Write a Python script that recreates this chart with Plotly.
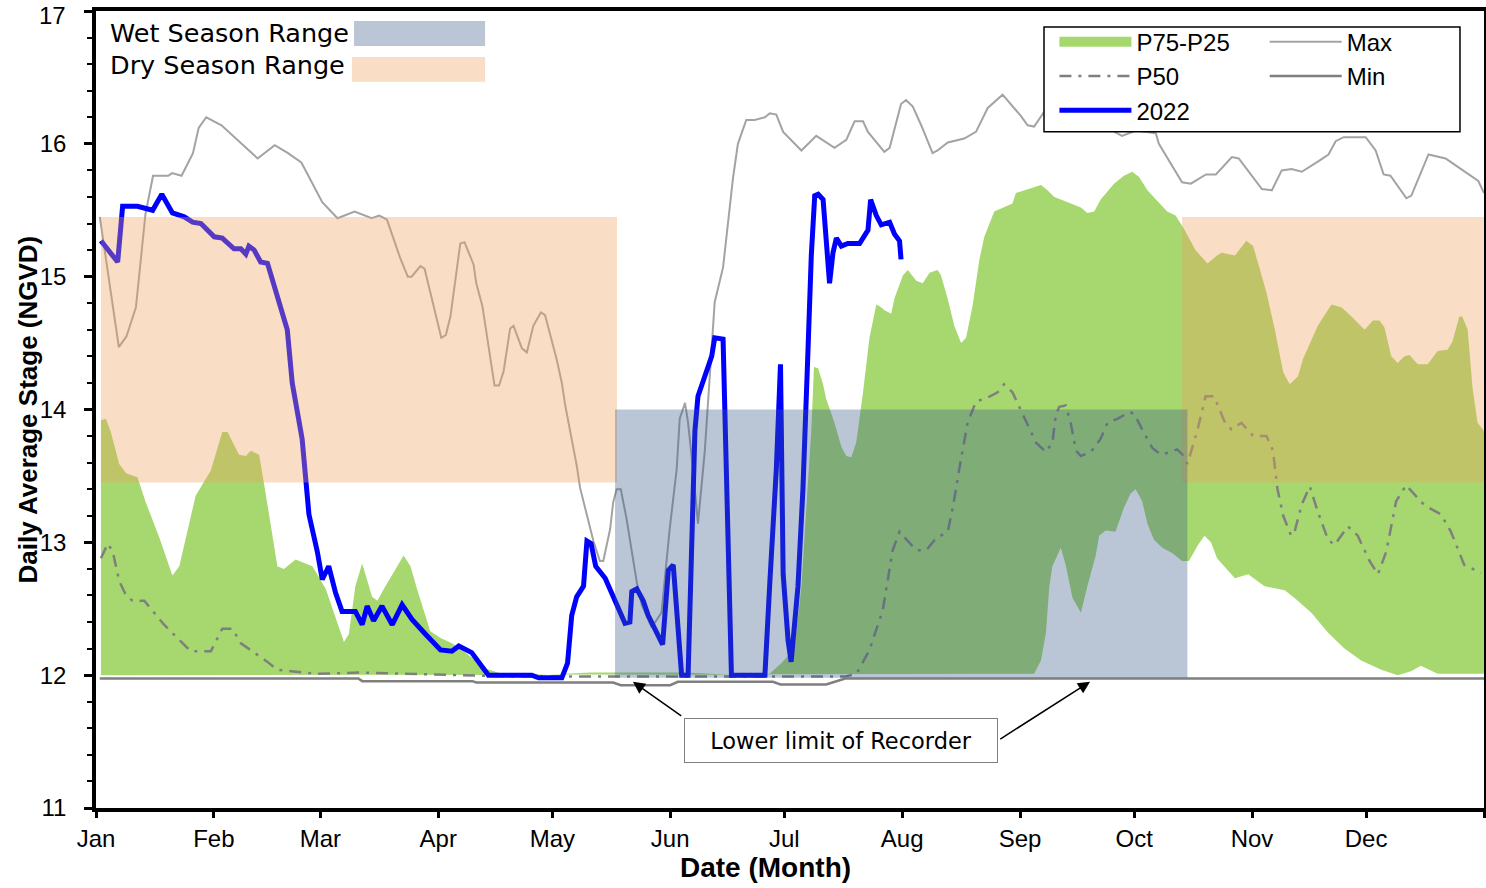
import plotly.graph_objects as go

# ---------------- data (day of year: 0 = Jan 1) ----------------
MONTHS = ["Jan", "Feb", "Mar", "Apr", "May", "Jun", "Jul", "Aug", "Sep", "Oct", "Nov", "Dec"]
MONTH_START_DAYS = [0, 31, 59, 90, 120, 151, 181, 212, 243, 273, 304, 334]
YEAR_END_DAY = 365
Y_TICKS = [11, 12, 13, 14, 15, 16, 17]

max_days = [1, 3.5, 6, 8, 10.5, 13, 15, 19, 20, 22.5, 25.5, 27, 29, 33, 36.5, 42.5, 47, 50.5, 54, 59.5,
            63.5, 68, 72.5, 74.5, 76.5, 80, 82, 83, 85.3, 86.4, 90.8, 92, 93.2, 95.8, 96.9, 99.3, 100,
            101.6, 104.8, 106, 107.2, 108.9, 109.8, 112, 113.3, 115, 117, 118.1, 121.2, 122.5, 123.4,
            126.4, 127.3, 130.8, 132.5, 133.4, 135.2, 136, 136.9, 138, 139.5, 140.8, 142.2, 143.5, 146.1,
            148.7, 150.9, 152.7, 153.5, 154.9, 155.7, 157, 158.3, 160.1, 161.4, 162.7, 164.9, 166.2,
            167.5, 168.8, 171, 173.2, 175.9, 177.2, 178.9, 180.7, 185.5, 189.4, 194.2, 197.3, 199.5,
            201.7, 203, 207.3, 208.7, 211.7, 213, 214.8, 217, 220, 221.3, 224, 228.3, 231.4, 234.5,
            238.4, 243.2, 245, 246.7, 249.3, 253, 258, 263, 267.2, 269.8, 273.5, 278.7, 279.5, 285.6,
            287.9, 291.9, 294.5, 298.7, 300.5, 306.6, 309.2, 311.8, 314.4, 317.1, 321.5, 324.1, 326,
            328.1, 333.9, 336.5, 338.6, 340.4, 344.6, 345.9, 350.4, 354.9, 356.4, 363.5, 365]
max_vals = [15.45, 14.95, 14.47, 14.55, 14.77, 15.47, 15.76, 15.76, 15.78, 15.76, 15.93, 16.12, 16.20,
            16.14, 16.05, 15.89, 15.99, 15.93, 15.86, 15.56, 15.44, 15.49, 15.44, 15.46, 15.43, 15.14,
            15.00, 15.00, 15.08, 15.06, 14.54, 14.56, 14.70, 15.25, 15.26, 15.09, 14.95, 14.78, 14.18,
            14.18, 14.29, 14.61, 14.63, 14.46, 14.43, 14.63, 14.73, 14.71, 14.37, 14.20, 14.03, 13.58,
            13.41, 13.01, 12.86, 12.86, 13.10, 13.30, 13.40, 13.40, 13.18, 12.96, 12.70, 12.53, 12.36,
            12.47, 13.11, 13.55, 13.93, 14.05, 13.90, 13.55, 13.14, 13.69, 14.25, 14.81, 15.07, 15.39,
            15.74, 16.00, 16.18, 16.18, 16.20, 16.23, 16.22, 16.09, 15.95, 16.06, 15.97, 16.03, 16.17,
            16.17, 16.09, 15.94, 15.97, 16.30, 16.33, 16.28, 16.14, 15.93, 15.95, 16.01, 16.04, 16.09,
            16.27, 16.37, 16.21, 16.14, 16.13, 16.24, 16.30, 16.32, 16.25, 16.10, 16.06, 16.10, 16.08,
            16.00, 15.71, 15.70, 15.77, 15.77, 15.90, 15.89, 15.66, 15.65, 15.80, 15.81, 15.79, 15.87,
            15.92, 16.02, 16.05, 16.05, 15.95, 15.77, 15.76, 15.59, 15.61, 15.92, 15.89, 15.86, 15.72,
            15.63]

min_days = [1, 69, 70, 99, 100, 136, 138, 151, 153, 178, 180, 192, 197, 365]
min_vals = [11.975, 11.975, 11.955, 11.955, 11.945, 11.945, 11.925, 11.925, 11.95, 11.95, 11.93, 11.93,
            11.975, 11.975]

p50_days = [1.3, 3.1, 4.4, 6.1, 7.9, 9.6, 12.7, 17.9, 24.9, 30.2, 33.2, 35.9, 38.1, 45.1, 47.7, 53.8,
            58.2, 69.6, 80, 95.8, 110, 197, 200, 203.4, 206.9, 209.5, 211.3, 215.7, 218.3, 220.9, 224,
            225.3, 227, 229.2, 231.4, 234.5, 237.1, 238.8, 241, 243.7, 247.2, 249.8, 251.5, 252.4, 253.3,
            255, 256.3, 257.7, 259, 261.6, 264.2, 266, 268.6, 271.7, 273, 275.1, 277.8, 280, 282.6,
            284.3, 286.1, 287, 289.6, 291.8, 294, 296.9, 298.6, 301.2, 304.3, 307.8, 309.5, 310.7, 312.2,
            314.3, 315.2, 317, 319.2, 321.3, 324, 325.7, 329.2, 331.8, 334.9, 337.1, 339.3, 341.9, 344.5,
            349.3, 353.7, 356.3, 359.8, 364.2]
p50_vals = [12.88, 12.99, 12.93, 12.71, 12.60, 12.56, 12.56, 12.38, 12.18, 12.18, 12.35, 12.35, 12.24,
            12.10, 12.04, 12.02, 12.01, 12.02, 12.01, 12.00, 11.99, 11.99, 12.01, 12.19, 12.49, 12.94,
            13.08, 12.94, 12.94, 13.03, 13.08, 13.26, 13.55, 13.90, 14.06, 14.09, 14.13, 14.19, 14.13,
            13.96, 13.75, 13.68, 13.75, 13.96, 14.02, 14.03, 13.90, 13.69, 13.65, 13.68, 13.78, 13.90,
            13.93, 13.98, 13.97, 13.85, 13.71, 13.66, 13.68, 13.70, 13.65, 13.59, 13.84, 14.10, 14.10,
            13.90, 13.85, 13.90, 13.80, 13.80, 13.69, 13.40, 13.20, 13.05, 13.08, 13.28, 13.42, 13.23,
            13.02, 12.98, 13.12, 13.05, 12.86, 12.76, 12.93, 13.31, 13.43, 13.28, 13.21, 13.08, 12.83,
            12.77]

p75_days = [1.3, 2.6, 3.9, 6.1, 7.9, 10.9, 13.1, 16.6, 20.1, 21.9, 26.2, 28, 30.2, 33.2, 34.6, 37.6,
            39.4, 40.7, 42.9, 44.2, 47.7, 49.4, 52.5, 56.9, 60.4, 65.2, 66.5, 68.2, 70, 72.6, 74, 76.1,
            78.7, 80.9, 82.7, 84.4, 87.9, 90.6, 93.6, 97.1, 102.4, 106.7, 115, 130, 155, 170, 176.7,
            180.2, 183.7, 185.5, 186.8, 188.1, 188.8, 189.9, 191.2, 192, 194.2, 196, 197.3, 198.6, 199.9,
            201.7, 203.4, 205.2, 206, 207.3, 209.1, 210, 212.2, 213.5, 215.7, 217.4, 219.2, 221.3, 222.2,
            224, 225.7, 227.5, 228.8, 230.5, 232.3, 233.6, 236.2, 238.8, 241, 241.9, 244.1, 246.7, 248.5,
            250.2, 252, 253.7, 256.3, 259, 260.7, 262.5, 264.2, 267.7, 270.3, 272.5, 274.3, 276.5, 279.1,
            281.7, 283.9, 286.1, 289.1, 292.3, 294.8, 296, 299.5, 302.5, 304.3, 307.8, 310, 312.2, 313.9,
            316.1, 317.4, 321.3, 324.9, 327.5, 330.5, 333.6, 335.8, 337.5, 338.8, 340.6, 342.3, 344.1,
            345.4, 347.6, 350.2, 352.8, 355.4, 356.7, 358.5, 359.3, 360.7, 362, 363.3, 365]
p75_vals = [13.92, 13.93, 13.83, 13.59, 13.52, 13.49, 13.30, 13.04, 12.75, 12.82, 13.35, 13.44, 13.54,
            13.83, 13.83, 13.66, 13.65, 13.69, 13.66, 13.44, 12.82, 12.80, 12.87, 12.82, 12.65, 12.25,
            12.31, 12.67, 12.84, 12.59, 12.56, 12.67, 12.79, 12.90, 12.82, 12.65, 12.33, 12.28, 12.24,
            12.17, 12.05, 12.01, 12.00, 12.02, 12.02, 12.00, 12.00, 12.09, 12.20, 12.67, 13.26, 13.84,
            14.32, 14.31, 14.19, 14.08, 13.90, 13.72, 13.65, 13.64, 13.75, 14.13, 14.54, 14.79, 14.78,
            14.75, 14.72, 14.84, 15.01, 15.05, 14.97, 14.95, 15.03, 15.05, 15.01, 14.83, 14.63, 14.50,
            14.54, 14.78, 15.13, 15.30, 15.49, 15.52, 15.55, 15.63, 15.65, 15.67, 15.69, 15.65, 15.60,
            15.58, 15.55, 15.52, 15.48, 15.49, 15.58, 15.70, 15.76, 15.79, 15.75, 15.65, 15.57, 15.49,
            15.46, 15.36, 15.20, 15.10, 15.16, 15.18, 15.16, 15.27, 15.23, 14.88, 14.60, 14.28, 14.19,
            14.25, 14.38, 14.63, 14.79, 14.77, 14.69, 14.60, 14.67, 14.67, 14.62, 14.40, 14.35, 14.40,
            14.41, 14.34, 14.34, 14.44, 14.45, 14.51, 14.70, 14.70, 14.60, 14.16, 13.90, 13.84]

p25_days = [1.3, 246.7, 248.5, 249.8, 250.7, 251.5, 252.8, 253.7, 255, 256.8, 259, 260.7, 262.9, 263.8,
            265.5, 268.1, 270.3, 272.1, 273.4, 275.1, 276.5, 278.2, 280.4, 283, 285.6, 287.4, 289.8,
            291.5, 293.2, 294.8, 299.5, 303, 307.3, 312.6, 315.2, 319.6, 324, 328.3, 332.7, 338, 342.3,
            345.8, 348.4, 350, 352.8, 365]
p25_vals = [12.00, 12.01, 12.11, 12.32, 12.67, 12.82, 12.90, 12.96, 12.83, 12.58, 12.47, 12.67, 12.90,
            13.05, 13.09, 13.08, 13.26, 13.37, 13.40, 13.31, 13.14, 13.02, 12.96, 12.92, 12.86, 12.86,
            12.98, 13.05, 13.00, 12.88, 12.73, 12.76, 12.67, 12.64, 12.58, 12.47, 12.32, 12.20, 12.11,
            12.04, 12.00, 12.03, 12.07, 12.05, 12.01, 12.01]

y2022_days = [1.3, 5.7, 7, 10.9, 14.9, 17.3, 20.1, 23.2, 25.4, 27.6, 31.1, 33.2, 36.3, 38.1, 39.4, 40.2,
              41.6, 43.3, 45.1, 47.2, 50.3, 51.6, 54.2, 56, 58.2, 59.5, 61.2, 63, 64.7, 68.2, 70, 71.3,
              73, 75.2, 77.9, 80.5, 83.1, 86.6, 90.6, 93.6, 95.4, 98.8, 103.2, 114.6, 116.4, 122.5, 124,
              125.1, 126.4, 128.2, 129.1, 130.2, 131.4, 133.9, 135.6, 139.1, 140.4, 140.9, 142.2, 143.9,
              145.2, 149, 150.5, 151.8, 154, 155.7, 157.5, 158.3, 160.1, 161.9, 162.7, 164.9, 167.1,
              175.9, 177.2, 178.9, 180, 180.7, 182, 182.8, 184.6, 185.9, 187.2, 188.1, 189, 189.9, 191.2,
              192, 192.9, 193.8, 194.7, 196, 197.7, 200.8, 202.5, 203, 203.7, 205.2, 206.5, 208.7, 210,
              211.3, 211.7]
y2022_vals = [15.27, 15.11, 15.53, 15.53, 15.50, 15.62, 15.48, 15.45, 15.41, 15.40, 15.30, 15.29, 15.21,
              15.21, 15.17, 15.23, 15.20, 15.11, 15.10, 14.89, 14.60, 14.20, 13.78, 13.21, 12.93, 12.72,
              12.82, 12.62, 12.48, 12.48, 12.38, 12.52, 12.41, 12.52, 12.38, 12.53, 12.42, 12.31, 12.19,
              12.18, 12.22, 12.17, 12.00, 12.00, 11.98, 11.98, 12.09, 12.45, 12.59, 12.67, 13.01, 12.99,
              12.82, 12.73, 12.62, 12.39, 12.40, 12.63, 12.65, 12.56, 12.45, 12.23, 12.79, 12.83, 12.00,
              12.00, 13.84, 14.10, 14.25, 14.40, 14.54, 14.53, 12.00, 12.00, 12.70, 13.55, 14.34, 12.76,
              12.26, 12.10, 12.67, 13.40, 14.42, 15.16, 15.61, 15.62, 15.58, 15.27, 14.95, 15.18, 15.29,
              15.23, 15.25, 15.25, 15.32, 15.35, 15.58, 15.46, 15.39, 15.41, 15.32, 15.27, 15.13]

# season ranges (stage, NGVD) and their periods (day of year)
WET_RANGE = [11.98, 14.0]
DRY_RANGE = [13.45, 15.45]
WET_PERIOD = [136.5, 287]
DRY_PERIODS = [[1.3, 137], [285.6, 365]]
RECORDER_LOWER_LIMIT = 11.95

# ---------------- styles ----------------
GREEN = "#a6d86f"
MAX_C = "#a3a3a3"
MIN_C = "#7f7f7f"
P50_C = "#7f7f7f"
BLUE = "#0000ff"
WET_FILL = "rgba(58,92,138,0.35)"
DRY_FILL = "rgba(238,160,91,0.36)"
ARIAL = "Liberation Sans, Arial, sans-serif"
VERD = "DejaVu Sans, Verdana, sans-serif"

fig = go.Figure()
fig.add_trace(go.Scatter(x=p25_days, y=p25_vals, mode="lines", line=dict(width=0, color=GREEN),
                         showlegend=False, hoverinfo="skip"))
fig.add_trace(go.Scatter(x=p75_days, y=p75_vals, mode="lines", line=dict(width=0, color=GREEN),
                         fill="tonexty", fillcolor=GREEN, showlegend=False, hoverinfo="skip"))
fig.add_trace(go.Scatter(x=max_days, y=max_vals, mode="lines", name="Max",
                         line=dict(color=MAX_C, width=2), legend="legend2", legendrank=1,
                         legendgroup="max"))
fig.add_trace(go.Scatter(x=min_days, y=min_vals, mode="lines", name="Min",
                         line=dict(color=MIN_C, width=2.5), legend="legend2", legendrank=2,
                         legendgroup="min"))
fig.add_trace(go.Scatter(x=p50_days, y=p50_vals, mode="lines", name="P50",
                         line=dict(color=P50_C, width=2.5, dash="12px,7px,3px,7px"),
                         legend="legend", legendrank=2, legendgroup="p50"))
fig.add_trace(go.Scatter(x=y2022_days, y=y2022_vals, mode="lines", name="2022",
                         line=dict(color=BLUE, width=5), legend="legend", legendrank=3,
                         legendgroup="y2022"))
fig.add_trace(go.Scatter(x=[None], y=[None], mode="lines", name="P75-P25",
                         line=dict(color=GREEN, width=10), legend="legend", legendrank=1,
                         legendgroup="band"))

shapes = []
for d0, d1 in DRY_PERIODS:
    shapes.append(dict(type="rect", xref="x", yref="y", x0=d0, x1=d1, y0=DRY_RANGE[0], y1=DRY_RANGE[1],
                       fillcolor=DRY_FILL, line=dict(width=0), layer="above"))
shapes.append(dict(type="rect", xref="x", yref="y", x0=WET_PERIOD[0], x1=WET_PERIOD[1],
                   y0=WET_RANGE[0], y1=WET_RANGE[1], fillcolor=WET_FILL, line=dict(width=0),
                   layer="above"))
# key swatches for season ranges
shapes.append(dict(type="rect", xref="paper", yref="paper", x0=0.1859, x1=0.2803, y0=0.9562, y1=0.9875,
                   fillcolor=WET_FILL, line=dict(width=0), layer="above"))
shapes.append(dict(type="rect", xref="paper", yref="paper", x0=0.1844, x1=0.2803, y0=0.9111, y1=0.9424,
                   fillcolor=DRY_FILL, line=dict(width=0), layer="above"))
# legend frame
shapes.append(dict(type="rect", xref="paper", yref="paper", x0=0.6830, x1=0.9827, y0=0.8486, y1=0.980,
                   fillcolor="white", line=dict(color="black", width=1.5), layer="above"))

annotations = [
    # top tick label drawn as an annotation so it stays fully inside the page
    dict(text=str(Y_TICKS[-1]), xref="paper", yref="paper", x=-0.0202, y=1.0138, xanchor="right",
         yanchor="top", showarrow=False, font=dict(family=ARIAL, size=24, color="black")),
    dict(text="Wet Season Range", xref="paper", yref="paper", x=0.009, y=0.9725, xanchor="left",
         yanchor="middle", showarrow=False, font=dict(family=VERD, size=25.5, color="black")),
    dict(text="Dry Season Range", xref="paper", yref="paper", x=0.009, y=0.9324, xanchor="left",
         yanchor="middle", showarrow=False, font=dict(family=VERD, size=25.5, color="black")),
    dict(text="Lower limit of Recorder", xref="x", yref="y", x=195.9, y=11.508, xanchor="center",
         yanchor="middle", showarrow=False, width=312, height=43, borderpad=0, borderwidth=1,
         bordercolor="#7f7f7f", bgcolor="white", font=dict(family=VERD, size=22.5, color="black")),
    dict(text="", xref="x", yref="y", x=141.2, y=RECORDER_LOWER_LIMIT, axref="x", ayref="y",
         ax=154.3, ay=11.685, showarrow=True, arrowhead=2, arrowsize=1.6, arrowwidth=1.5,
         arrowcolor="black"),
    dict(text="", xref="x", yref="y", x=261.4, y=RECORDER_LOWER_LIMIT, axref="x", ayref="y",
         ax=237.4, ay=11.512, showarrow=True, arrowhead=2, arrowsize=1.6, arrowwidth=1.5,
         arrowcolor="black"),
    dict(text="<b>Date (Month)</b>", xref="paper", yref="paper", x=0.482, y=-0.075, xanchor="center",
         yanchor="middle", showarrow=False, font=dict(family=ARIAL, size=28, color="black")),
    dict(text="<b>Daily Average Stage (NGVD)</b>", xref="paper", yref="paper", x=-0.049, y=0.5,
         xanchor="center", yanchor="middle", textangle=-90, showarrow=False,
         font=dict(family=ARIAL, size=26, color="black")),
]

legend_common = dict(bgcolor="rgba(0,0,0,0)", borderwidth=0, itemwidth=72, orientation="v",
                     font=dict(family=ARIAL, size=24, color="black"), xanchor="left", yanchor="top",
                     tracegroupgap=0, itemclick=False, itemdoubleclick=False)

fig.update_layout(
    width=1486, height=888,
    margin=dict(l=96, r=2, t=11, b=80, autoexpand=False),
    plot_bgcolor="white", paper_bgcolor="white",
    hovermode=False,
    shapes=shapes, annotations=annotations,
    legend=dict(x=0.6905, y=0.989, **legend_common),
    legend2=dict(x=0.8420, y=0.989, **legend_common),
    xaxis=dict(range=[0, YEAR_END_DAY], tickmode="array", tickvals=MONTH_START_DAYS + [YEAR_END_DAY],
               ticktext=MONTHS + [""], ticks="outside", ticklen=6, tickwidth=3, tickcolor="black",
               showline=True, linewidth=3.5, linecolor="black", mirror=True, showgrid=False,
               zeroline=False, automargin=False, tickfont=dict(family=ARIAL, size=24, color="black")),
    yaxis=dict(range=[Y_TICKS[0], Y_TICKS[-1]], tickmode="array", tickvals=Y_TICKS,
               ticktext=[str(v) for v in Y_TICKS[:-1]] + [""],
               ticks="outside", ticklen=8, tickwidth=3, tickcolor="black",
               minor=dict(tick0=11, dtick=0.2, ticks="outside", ticklen=5, tickwidth=2,
                          tickcolor="black"),
               showline=True, linewidth=3.5, linecolor="black", mirror=True, showgrid=False,
               zeroline=False, automargin=False, ticklabelstandoff=13,
               tickfont=dict(family=ARIAL, size=24, color="black")),
)

fig.write_html("out.html", config={"displayModeBar": False},
               post_script="document.body.style.margin='0px';")
